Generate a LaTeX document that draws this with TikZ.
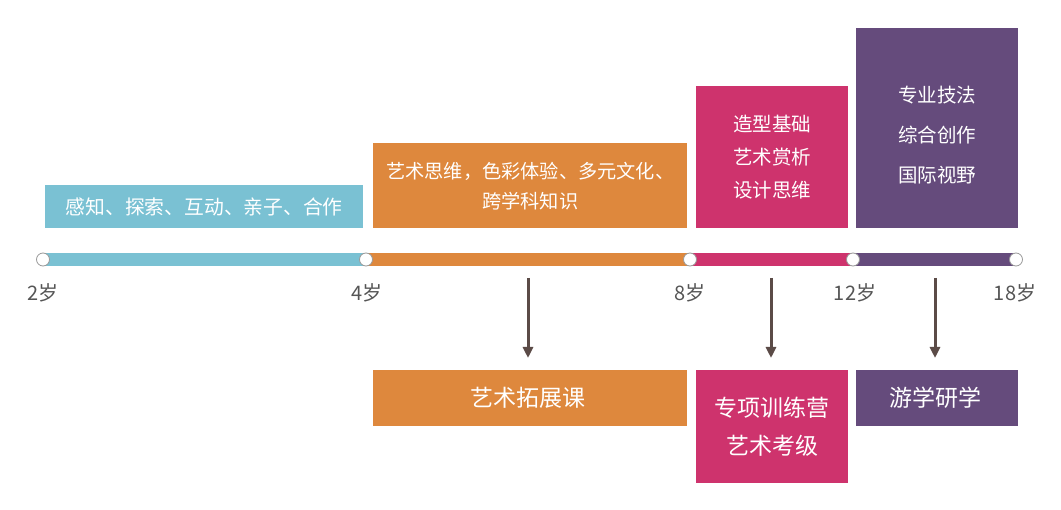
\documentclass[tikz,border=0pt]{standalone}
\usepackage{fontspec}
\setmainfont{Noto Sans CJK SC}
\usetikzlibrary{arrows.meta}
\definecolor{cblue}{HTML}{7AC1D3}
\definecolor{corange}{HTML}{DE883D}
\definecolor{cpink}{HTML}{CE336D}
\definecolor{cpurple}{HTML}{654B7C}
\definecolor{carrow}{HTML}{5B4B47}
\definecolor{clabel}{HTML}{555555}
\begin{document}
\begin{tikzpicture}[x=1pt,y=-1pt,
  box/.style={anchor=north west,inner sep=0pt,text=white,align=center},
  dot/.style={circle,fill=white,draw=black!40,line width=0.8pt,minimum size=13pt,inner sep=0pt},
  age/.style={text=clabel,font=\fontsize{20}{24}\selectfont},
  arr/.style={draw=carrow,line width=3pt,-{Triangle[length=11pt,width=10pt]},shorten >=12pt}]
\useasboundingbox (0,0) rectangle (1061,510);
% upper boxes
\node[box,fill=cblue,minimum width=318,minimum height=43,font=\fontsize{19.8}{24}\selectfont] (kb) at (45,185) {感知、探索、互动、亲子、合作};
\node[box,fill=corange,minimum width=314,minimum height=85,font=\fontsize{19.2}{30}\selectfont] (ko) at (373,143) {艺术思维，色彩体验、多元文化、\\跨学科知识};
\node[box,fill=cpink,minimum width=152,minimum height=142,font=\fontsize{19.5}{33}\selectfont] (kp) at (696,86) {造型基础\\艺术赏析\\设计思维};
\node[box,fill=cpurple,minimum width=162,minimum height=200] (ku) at (856,28) {};
\node[text=white,align=center,font=\fontsize{19.5}{40}\selectfont] (kut) at (937,135) {专业技法\\综合创作\\国际视野};
% timeline
\fill[cblue] (43,253) rectangle (366,266);
\fill[corange] (366,253) rectangle (690,266);
\fill[cpink] (690,253) rectangle (853,266);
\fill[cpurple] (853,253) rectangle (1016,266);
\node[dot] (t2) at (43,259.5) {};
\node[dot] (t4) at (366,259.5) {};
\node[dot] (t8) at (690,259.5) {};
\node[dot] (t12) at (853,259.5) {};
\node[dot] (t18) at (1016,259.5) {};
\node[age] (l2) at (43,293) {2岁};
\node[age] (l4) at (367,293) {4岁};
\node[age] (l8) at (690,293) {8岁};
\node[age] (l12) at (855,293) {12岁};
\node[age] (l18) at (1015,293) {18岁};
% lower boxes
\node[box,fill=corange,minimum width=314,minimum height=56] (bo) at (373,370) {};
\node[text=white,font=\fontsize{23}{28}\selectfont] (bot) at (528,398) {艺术拓展课};
\node[box,fill=cpink,minimum width=152,minimum height=113] (bp) at (696,370) {};
\node[text=white,align=center,font=\fontsize{23}{38}\selectfont] (bpt) at (772,427) {专项训练营\\艺术考级};
\node[box,fill=cpurple,minimum width=162,minimum height=56] (bu) at (856,370) {};
\node[text=white,font=\fontsize{23}{28}\selectfont] (but) at (935,398) {游学研学};
% arrows
\coordinate (a1) at (528,278);
\coordinate (a2) at (771,278);
\coordinate (a3) at (935,278);
\draw[arr] (a1) -- (a1 |- bo.north);
\draw[arr] (a2) -- (a2 |- bp.north);
\draw[arr] (a3) -- (a3 |- bu.north);
\end{tikzpicture}
\end{document}
